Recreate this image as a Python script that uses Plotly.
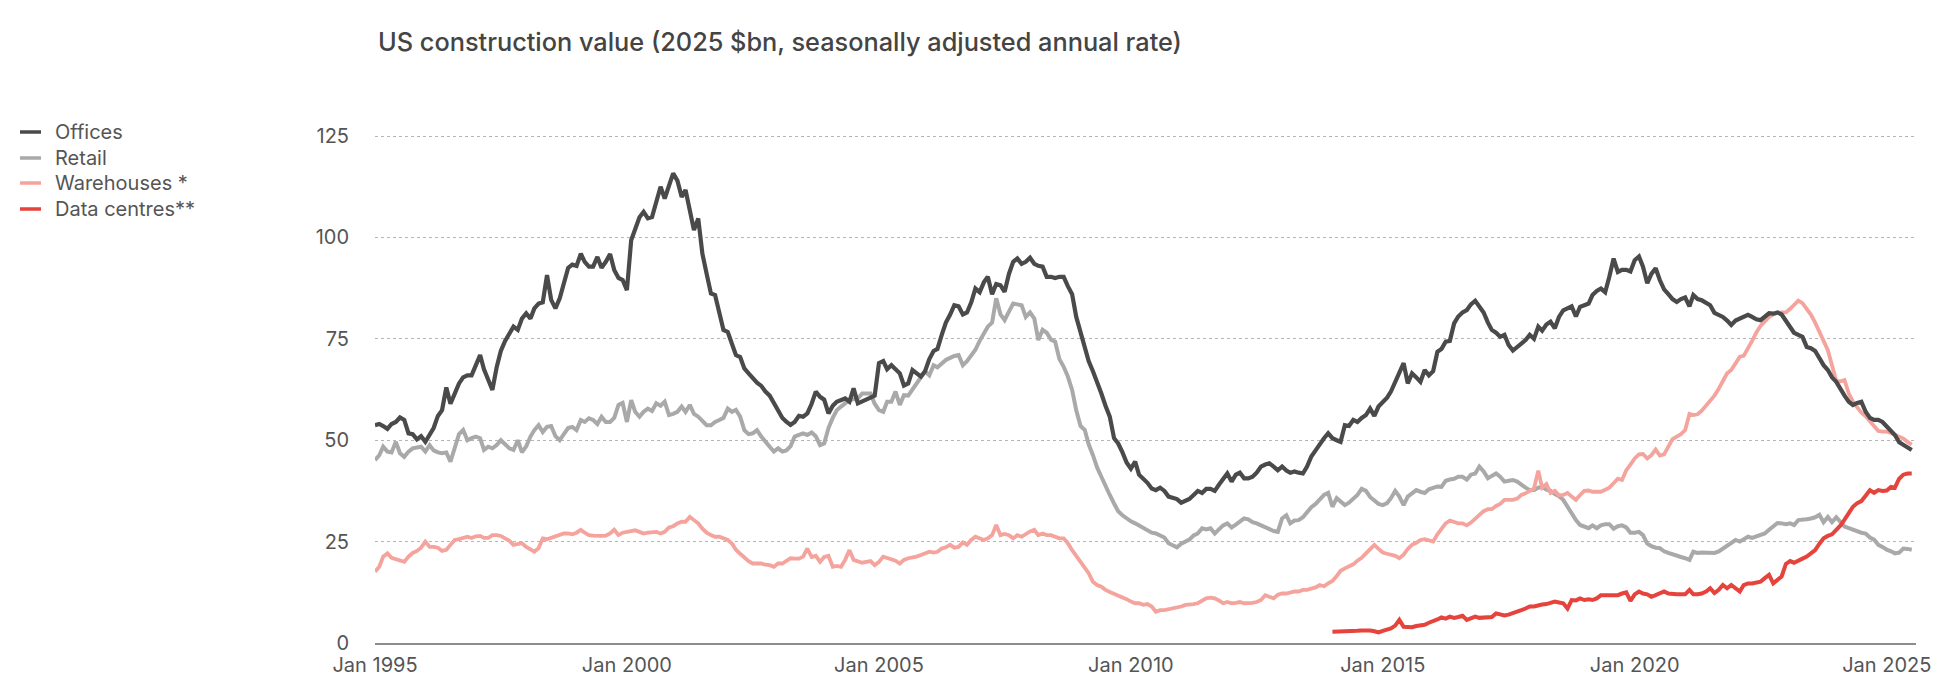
import pandas as pd
import plotly.graph_objects as go

# Monthly values, 2025 $bn SAAR
offices = [
    53.7, 54.0, 53.5, 52.8, 54.0, 54.5, 55.6, 55.0, 51.7, 51.5, 50.2, 51.0,   # 1995
    49.6, 51.5, 53.0, 56.0, 57.4, 63.0, 59.0, 61.5, 64.0, 65.5, 66.0, 66.0,   # 1996
    68.5, 71.0, 67.5, 65.0, 62.4, 68.0, 72.0, 74.5, 76.3, 78.0, 77.2, 80.0,   # 1997
    81.3, 80.0, 82.5, 83.7, 84.0, 90.7, 84.6, 82.5, 85.0, 89.0, 92.5, 93.3,   # 1998
    93.0, 96.0, 94.0, 92.8, 92.8, 95.2, 92.5, 94.0, 95.9, 92.0, 90.0, 89.5,   # 1999
    87.0, 99.3, 101.8, 105.0, 106.3, 104.7, 105.0, 109.0, 112.5, 109.6, 112.9, 115.8,  # 2000
    114.0, 110.0, 111.7, 106.7, 101.8, 104.7, 96.0, 91.0, 86.2, 85.8, 81.0, 77.2,  # 2001
    76.7, 74.0, 71.0, 70.5, 67.7, 66.5, 65.2, 64.2, 63.4, 62.0, 61.0, 59.1,   # 2002
    57.4, 55.5, 54.6, 53.8, 54.5, 56.0, 55.8, 56.6, 59.0, 62.0, 60.7, 60.0,   # 2003
    56.6, 58.5, 59.5, 60.0, 60.3, 59.5, 62.8, 59.1, 59.5, 60.0, 60.5, 61.0,   # 2004
    69.0, 69.5, 67.5, 68.5, 67.5, 66.5, 63.5, 64.0, 67.3, 66.5, 65.7, 67.0,   # 2005
    70.0, 72.0, 72.5, 76.0, 79.0, 81.0, 83.3, 83.0, 81.0, 81.5, 84.0, 87.4,   # 2006
    86.5, 89.0, 90.3, 86.0, 88.5, 88.2, 86.6, 91.0, 94.0, 94.8, 93.5, 94.0,   # 2007
    95.0, 93.5, 93.0, 92.8, 90.3, 90.3, 90.0, 90.3, 90.3, 88.0, 86.0, 80.4,   # 2008
    76.7, 72.2, 69.5, 67.0, 64.5, 61.5, 58.5, 55.8, 50.5, 49.2, 47.0, 44.5,   # 2009
    43.0, 44.7, 41.5, 40.6, 39.5, 38.1, 37.7, 38.3, 37.5, 36.1, 35.7, 35.5,   # 2010
    34.6, 35.0, 35.5, 36.5, 37.5, 37.0, 38.0, 38.0, 37.5, 39.0, 40.6, 41.8,   # 2011
    39.8, 41.5, 42.0, 40.6, 40.6, 41.0, 42.0, 43.5, 44.0, 44.3, 43.5, 42.6,   # 2012
    43.5, 42.5, 42.0, 42.3, 42.0, 41.8, 43.5, 46.0, 47.5, 49.2, 50.5, 51.7,   # 2013
    50.5, 50.0, 49.6, 53.7, 53.5, 55.0, 54.5, 55.5, 56.2, 57.8, 56.0, 58.3,   # 2014
    59.5, 60.5, 62.0, 64.5, 67.0, 69.0, 64.0, 66.5, 65.5, 64.4, 67.3, 66.0,   # 2015
    67.0, 71.8, 72.5, 74.3, 74.5, 78.8, 80.5, 81.5, 82.1, 83.5, 84.4, 83.0,   # 2016
    81.5, 79.0, 77.2, 76.5, 75.5, 76.0, 73.5, 72.1, 73.0, 74.0, 74.7, 76.0,   # 2017
    75.0, 78.0, 77.0, 78.5, 79.2, 77.6, 80.4, 82.0, 82.5, 83.0, 80.5, 82.9,   # 2018
    83.3, 83.7, 85.8, 86.8, 87.4, 86.5, 90.3, 94.8, 91.5, 92.0, 92.0, 91.6,   # 2019
    94.4, 95.3, 92.8, 88.7, 91.0, 92.4, 89.5, 87.2, 86.0, 84.8, 84.1, 84.8,   # 2020
    85.2, 83.0, 85.8, 84.8, 84.5, 84.0, 83.3, 81.4, 81.0, 80.4, 79.5, 78.4,   # 2021
    79.5, 80.0, 80.5, 80.9, 80.4, 79.8, 79.6, 80.5, 81.3, 81.2, 81.5, 81.0,   # 2022
    79.5, 77.6, 76.5, 76.0, 75.5, 73.0, 72.7, 72.0, 70.0, 68.5, 67.3, 65.5,   # 2023
    64.4, 62.4, 61.0, 59.5, 58.7, 59.2, 59.5, 57.0, 55.5, 55.0, 55.0, 54.5,   # 2024
    53.3, 52.3, 51.3, 49.5, 48.8, 48.0, 47.6,                                 # 2025
]

retail = [
    45.1, 46.3, 48.4, 47.2, 47.0, 49.6, 46.8, 45.9, 47.2, 48.0, 48.2, 48.4,   # 1995
    47.2, 48.8, 47.5, 47.0, 46.8, 47.0, 44.7, 48.4, 51.5, 52.5, 50.0, 50.5,   # 1996
    50.9, 50.5, 47.6, 48.4, 48.0, 48.8, 50.0, 49.0, 48.0, 47.6, 50.0, 47.0,   # 1997
    48.5, 50.9, 52.5, 53.7, 52.0, 53.3, 53.5, 51.0, 50.0, 51.5, 53.0, 53.3,   # 1998
    52.5, 55.0, 54.5, 55.4, 55.0, 54.0, 55.8, 54.5, 54.5, 55.5, 58.7, 59.2,   # 1999
    54.5, 59.9, 57.0, 55.8, 57.0, 57.8, 57.2, 59.1, 58.5, 59.5, 56.2, 56.5,   # 2000
    57.0, 58.3, 57.0, 58.7, 56.5, 55.8, 54.8, 53.7, 53.7, 54.5, 55.0, 55.5,   # 2001
    57.8, 57.0, 57.5, 55.8, 52.5, 51.5, 51.7, 52.5, 50.9, 49.5, 48.4, 47.2,   # 2002
    48.0, 47.2, 47.5, 48.5, 50.9, 51.3, 51.7, 51.3, 51.9, 51.0, 48.8, 49.2,   # 2003
    53.0, 55.5, 57.4, 58.3, 59.1, 59.9, 60.1, 60.3, 61.5, 61.5, 61.5, 59.0,   # 2004
    57.4, 57.0, 59.5, 59.5, 62.0, 58.7, 61.1, 61.0, 62.5, 64.0, 65.7, 67.0,   # 2005
    66.0, 68.5, 68.0, 69.0, 69.8, 70.3, 70.8, 71.0, 68.5, 69.5, 71.0, 72.3,   # 2006
    74.5, 76.5, 78.0, 79.0, 85.0, 81.0, 79.6, 81.7, 83.7, 83.5, 83.3, 80.4,   # 2007
    81.5, 80.0, 74.7, 77.2, 76.5, 74.8, 74.3, 70.0, 68.1, 65.7, 62.4, 57.4,   # 2008
    53.5, 52.5, 49.0, 46.3, 43.3, 41.0, 38.5, 36.5, 34.4, 32.5, 31.5, 30.7,   # 2009
    30.0, 29.5, 29.0, 28.4, 27.8, 27.2, 27.0, 26.6, 26.0, 24.6, 24.2, 23.6,   # 2010
    24.5, 25.0, 25.5, 26.5, 27.0, 28.3, 28.0, 28.3, 27.0, 28.0, 29.0, 29.5,   # 2011
    28.5, 29.2, 29.8, 30.7, 30.5, 29.8, 29.5, 29.0, 28.5, 28.0, 27.6, 27.4,   # 2012
    30.7, 31.5, 29.5, 30.2, 30.3, 31.0, 32.4, 33.5, 34.3, 35.5, 36.5, 37.0,   # 2013
    33.6, 35.7, 35.0, 34.0, 34.6, 35.5, 36.5, 38.0, 37.5, 36.0, 35.0, 34.3,   # 2014
    34.0, 34.5, 35.7, 37.5, 36.1, 34.0, 36.1, 37.0, 37.7, 37.3, 37.0, 37.9,   # 2015
    38.3, 38.6, 38.5, 40.0, 40.3, 40.5, 41.0, 41.0, 40.3, 41.5, 41.8, 43.5,   # 2016
    42.3, 40.6, 41.2, 41.8, 41.0, 39.8, 40.0, 40.2, 39.8, 39.0, 38.3, 37.7,   # 2017
    37.7, 38.3, 38.5, 37.8, 37.5, 36.7, 36.2, 35.3, 33.6, 32.2, 30.3, 29.1,   # 2018
    28.8, 28.3, 29.0, 28.3, 29.0, 29.3, 29.3, 28.2, 28.8, 29.0, 28.5, 27.2,   # 2019
    27.2, 27.4, 26.6, 24.5, 23.9, 23.5, 23.4, 22.6, 22.2, 21.8, 21.4, 21.2,   # 2020
    20.9, 20.5, 22.5, 22.2, 22.3, 22.3, 22.1, 22.2, 22.6, 23.3, 24.0, 24.6,   # 2021
    25.4, 25.0, 25.6, 26.2, 25.9, 26.2, 26.5, 27.0, 27.9, 28.8, 29.6, 29.5,   # 2022
    29.3, 29.5, 29.1, 30.3, 30.3, 30.5, 30.7, 31.0, 31.6, 29.8, 31.1, 29.8,   # 2023
    31.0, 29.8, 28.7, 28.3, 27.9, 27.5, 27.2, 27.0, 26.0, 25.5, 24.2, 23.7,   # 2024
    23.0, 22.6, 22.1, 22.3, 23.3, 23.2, 23.0,                                 # 2025
]

warehouses = [
    17.6, 18.8, 21.3, 22.1, 21.0, 20.7, 20.5, 20.0, 21.3, 22.2, 22.7, 23.5,   # 1995
    25.0, 23.7, 23.7, 23.5, 22.7, 23.0, 24.2, 25.4, 25.6, 25.8, 26.2, 25.9,   # 1996
    26.3, 26.4, 25.9, 25.9, 26.6, 26.6, 26.4, 25.8, 25.2, 24.2, 24.3, 24.6,   # 1997
    23.7, 23.0, 22.5, 23.4, 25.8, 25.6, 25.9, 26.2, 26.6, 27.0, 27.0, 26.8,   # 1998
    27.2, 27.9, 27.2, 26.6, 26.5, 26.4, 26.4, 26.5, 27.0, 27.9, 26.6, 27.2,   # 1999
    27.4, 27.4, 27.8, 27.4, 27.0, 27.2, 27.4, 27.4, 27.0, 27.4, 28.5, 28.8,   # 2000
    29.5, 29.9, 29.9, 31.1, 30.3, 29.5, 28.2, 27.2, 26.6, 26.2, 26.2, 25.8,   # 2001
    25.4, 24.5, 23.0, 22.0, 21.0, 20.2, 19.6, 19.6, 19.6, 19.3, 19.2, 18.8,   # 2002
    19.6, 19.6, 20.3, 20.9, 20.8, 20.8, 21.3, 23.3, 21.2, 21.5, 20.0, 21.2,   # 2003
    21.5, 18.8, 19.0, 18.8, 20.5, 22.9, 20.5, 20.2, 19.8, 20.0, 20.2, 19.2,   # 2004
    20.0, 21.3, 21.0, 20.7, 20.3, 19.6, 20.5, 20.9, 21.0, 21.3, 21.7, 22.1,   # 2005
    22.5, 22.3, 22.5, 23.3, 23.6, 24.2, 23.5, 23.7, 24.8, 24.2, 25.4, 26.2,   # 2006
    25.9, 25.4, 25.8, 26.6, 29.1, 26.6, 26.9, 26.6, 25.8, 26.6, 26.2, 26.9,   # 2007
    27.5, 27.9, 26.6, 27.0, 26.6, 26.6, 26.3, 25.8, 25.8, 24.6, 22.9, 21.5,   # 2008
    20.0, 18.4, 17.2, 15.1, 14.3, 13.9, 13.1, 12.6, 12.2, 11.8, 11.4, 10.8,   # 2009
    10.2, 9.8, 9.8, 9.4, 9.6, 9.0, 7.7, 8.1, 8.1, 8.3, 8.5, 8.8,              # 2010
    9.0, 9.4, 9.4, 9.6, 9.8, 10.4, 11.0, 11.2, 11.0, 10.5, 9.8, 10.1,         # 2011
    9.8, 9.9, 10.1, 9.8, 9.8, 9.9, 10.1, 10.6, 11.8, 11.4, 11.0, 11.9,        # 2012
    12.2, 12.2, 12.5, 12.7, 12.7, 13.1, 13.1, 13.3, 13.7, 14.3, 14.0, 14.7,   # 2013
    15.3, 16.5, 17.8, 18.4, 18.8, 19.4, 20.3, 21.0, 22.1, 23.2, 24.2, 23.2,   # 2014
    22.3, 22.0, 21.7, 21.5, 20.9, 21.8, 23.2, 24.2, 24.7, 25.4, 25.6, 25.2,   # 2015
    25.0, 26.8, 28.3, 29.5, 30.2, 29.9, 29.5, 29.5, 29.0, 29.7, 30.7, 31.6,   # 2016
    32.5, 33.0, 33.0, 33.8, 34.3, 35.3, 35.3, 35.3, 35.6, 36.5, 36.9, 37.5,   # 2017
    38.1, 42.5, 38.3, 39.2, 37.0, 37.5, 36.4, 36.5, 37.0, 36.1, 35.3, 36.5,   # 2018
    37.5, 37.6, 37.3, 37.3, 37.3, 37.8, 38.3, 39.4, 40.5, 40.2, 42.6, 44.0,   # 2019
    45.5, 46.5, 46.6, 45.5, 46.3, 47.7, 46.2, 46.5, 48.6, 50.3, 50.9, 51.5,   # 2020
    52.5, 56.5, 56.2, 56.4, 57.3, 58.5, 59.5, 61.0, 62.7, 64.7, 66.5, 67.3,   # 2021
    69.0, 70.6, 70.8, 72.5, 74.5, 76.6, 78.2, 79.3, 80.4, 81.0, 81.4, 81.5,   # 2022
    81.5, 82.4, 83.5, 84.4, 83.8, 82.5, 81.0, 79.0, 76.5, 74.5, 72.2, 68.5,   # 2023
    64.6, 64.5, 64.8, 61.5, 59.5, 58.1, 56.8, 55.9, 54.8, 53.5, 52.3, 52.1,   # 2024
    52.1, 51.8, 51.4, 51.0, 50.4, 49.6, 48.9,                                 # 2025
]

data_centres = [
    2.8, 2.8, 2.8, 2.9, 3.0, 3.0, 3.0, 3.1, 3.2, 3.1, 2.9, 2.6,               # 2014
    3.0, 3.2, 3.6, 4.3, 5.7, 4.0, 4.0, 3.9, 4.2, 4.4, 4.5, 5.0,               # 2015
    5.3, 5.8, 6.3, 6.0, 6.5, 6.2, 6.4, 6.7, 5.7, 6.1, 6.5, 6.2,               # 2016
    6.3, 6.5, 6.4, 7.3, 7.0, 6.8, 7.0, 7.3, 7.6, 8.1, 8.5, 9.0,               # 2017
    9.0, 9.3, 9.5, 9.6, 9.8, 10.2, 10.0, 9.8, 8.5, 10.6, 10.5, 11.0,          # 2018
    10.6, 10.8, 10.6, 11.0, 11.8, 11.8, 11.8, 11.8, 11.8, 12.2, 12.5, 10.4,   # 2019
    12.0, 12.7, 12.2, 12.0, 11.4, 11.8, 12.2, 12.7, 12.2, 12.0, 12.0, 12.0,   # 2020
    12.0, 13.1, 12.0, 12.0, 12.2, 12.7, 13.5, 12.3, 13.1, 14.3, 13.5, 14.3,   # 2021
    13.5, 12.7, 14.3, 14.7, 14.7, 14.9, 15.1, 16.0, 16.8, 14.7, 15.5, 16.4,   # 2022
    19.5, 20.2, 19.8, 20.2, 20.8, 21.3, 22.1, 22.9, 24.5, 25.8, 26.4, 26.8,   # 2023
    27.9, 29.0, 30.4, 32.0, 33.6, 34.5, 35.0, 36.3, 37.7, 37.0, 37.7, 37.5,   # 2024
    37.6, 38.5, 38.3, 40.5, 41.5, 41.8, 41.8,                                 # 2025
]

series_names = ["Offices", "Retail", "Warehouses *", "Data centres**"]
series_colors = ["#4a4a4a", "#a9a9a9", "#f4a39d", "#e5433b"]
x_tick_dates = ["1995-01-01", "2000-01-01", "2005-01-01", "2010-01-01",
                "2015-01-01", "2020-01-01", "2025-01-01"]
x_tick_labels = ["Jan 1995", "Jan 2000", "Jan 2005", "Jan 2010",
                 "Jan 2015", "Jan 2020", "Jan 2025"]
y_tick_values = [0, 25, 50, 75, 100, 125]

dates_main = pd.date_range("1995-01-01", periods=len(offices), freq="MS")
dates_dc = pd.date_range("2014-01-01", periods=len(data_centres), freq="MS")

FONT = "Inter, Roboto, 'Liberation Sans', sans-serif"
TXT = "#555555"

# figure size leaves room for the page's default 8px body margin
W, H = 1950, 683
ML, MR, MT, MB = 367, 42, 124, 48
PW, PH = W - ML - MR, H - MT - MB


def px_x(px):
    return (px - ML) / PW


def px_y(py):
    return 1 - (py - MT) / PH


fig = go.Figure()
# draw order: retail, warehouses, data centres, offices (offices on top)
fig.add_trace(go.Scatter(x=dates_main, y=retail, name=series_names[1], mode="lines",
                         line=dict(color=series_colors[1], width=4.0)))
fig.add_trace(go.Scatter(x=dates_main, y=warehouses, name=series_names[2], mode="lines",
                         line=dict(color=series_colors[2], width=3.8)))
fig.add_trace(go.Scatter(x=dates_dc, y=data_centres, name=series_names[3], mode="lines",
                         line=dict(color=series_colors[3], width=4.0)))
fig.add_trace(go.Scatter(x=dates_main, y=offices, name=series_names[0], mode="lines",
                         line=dict(color=series_colors[0], width=4.2)))

# legend block at top-left (line key + label per series)
legend_rows = [124, 150, 175, 201]
for name, color, row in zip(series_names, series_colors, legend_rows):
    fig.add_shape(type="line", xref="paper", yref="paper",
                  x0=px_x(12), x1=px_x(33), y0=px_y(row), y1=px_y(row),
                  line=dict(color=color, width=3.5))
    fig.add_annotation(text=name, xref="paper", yref="paper",
                       x=px_x(45), y=px_y(row), xanchor="left", yanchor="middle",
                       showarrow=False, font=dict(family=FONT, size=20, color=TXT))

fig.update_layout(
    width=W, height=H,
    margin=dict(l=ML, r=MR, t=MT, b=MB),
    paper_bgcolor="white", plot_bgcolor="white",
    font=dict(family=FONT, size=20, color=TXT),
    title=dict(text="US construction value (2025 $bn, seasonally adjusted annual rate)",
               x=370 / W, xanchor="left", y=1 - 34 / H, yanchor="middle",
               font=dict(family=FONT, size=25.3, color="#444444", weight=500)),
    showlegend=False,
    xaxis=dict(
        type="date",
        range=["1995-01-01", "2025-08-01"],
        tickvals=x_tick_dates, ticktext=x_tick_labels,
        showgrid=False, zeroline=False,
        showline=True, linecolor="#8c8c8c", linewidth=1.5,
        ticks="", ticklabelstandoff=3,
        tickfont=dict(family=FONT, size=20, color=TXT),
    ),
    yaxis=dict(
        range=[0, 126],
        tickvals=y_tick_values,
        showgrid=True, gridcolor="#b5b5b5", gridwidth=1, griddash="dot",
        zeroline=False, showline=False, ticks="",
        ticklabelstandoff=25,
        tickfont=dict(family=FONT, size=20, color=TXT),
    ),
)

fig.write_html("out.html")
